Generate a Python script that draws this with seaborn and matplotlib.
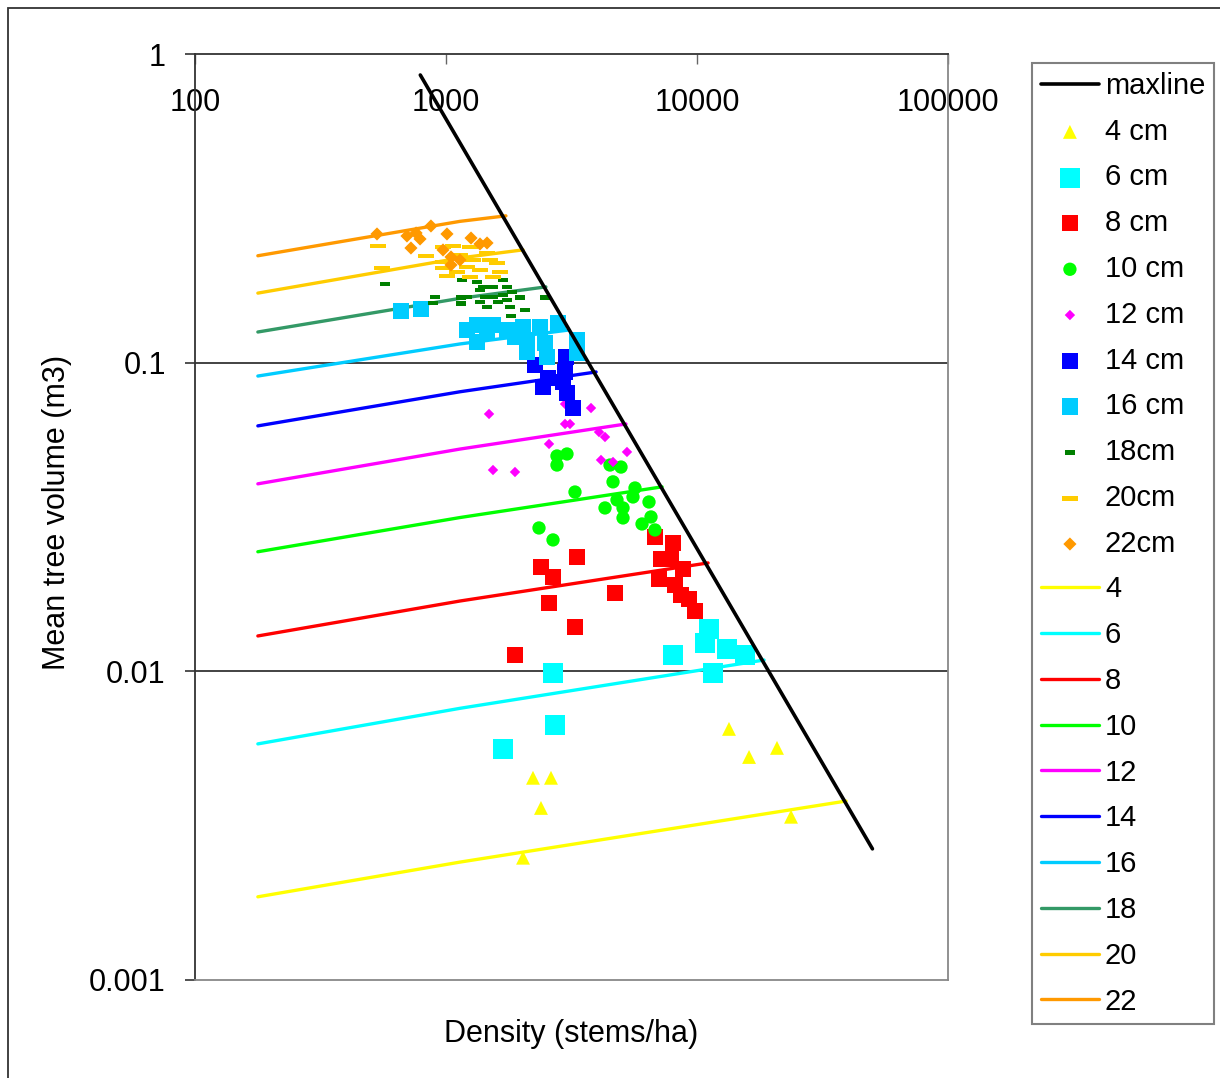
import matplotlib
matplotlib.use('Agg')
import matplotlib.pyplot as plt
import seaborn as sns
from matplotlib.patches import Rectangle

sns.set_style('white')
plt.rcParams['font.family'] = ['Liberation Sans', 'DejaVu Sans']
plt.rcParams['text.color'] = 'black'
plt.rcParams['axes.labelcolor'] = 'black'
plt.rcParams['xtick.color'] = 'black'
plt.rcParams['ytick.color'] = 'black'

# maximum size-density line
max_x = [790, 50000]
max_y = [0.855, 0.00266]

# observed stands per diameter class (stems/ha, m3)
d4_x = [2221, 2620, 2390, 13410, 16120, 20830, 23690, 2027]
d4_y = [0.00452, 0.00452, 0.00361, 0.00651, 0.00528, 0.00565, 0.00338, 0.00249]

d6_x = [2669, 2719, 1687, 8023, 11160, 10760, 13170, 15530, 11580]
d6_y = [0.00988, 0.0067, 0.0056, 0.0113, 0.01372, 0.01236, 0.01182, 0.0113, 0.00988]

d8_x = [1883, 3265, 2573, 2669, 2390, 3325, 4714, 6801, 8023, 7188, 7879, 8796,
        7057, 8172, 8636, 9293, 9817]
d8_y = [0.0113, 0.01392, 0.01666, 0.0202, 0.0218, 0.02348, 0.01795, 0.02725, 0.02606,
        0.02312, 0.02312, 0.02146, 0.01992, 0.01905, 0.01769, 0.01716, 0.01569]

d10_x = [2768, 3034, 2768, 3265, 4628, 4502, 4980, 5662, 4800, 5559, 6438, 4300,
         5073, 5073, 6557, 6039, 6801, 2347, 2669]
d10_y = [0.04985, 0.0506, 0.0466, 0.0381, 0.0411, 0.0466, 0.0459, 0.03926, 0.03591,
         0.03672, 0.03537, 0.03383, 0.03383, 0.0314, 0.03163, 0.03002, 0.02871,
         0.02914, 0.02665]

d12_x = [1484, 1539, 1883, 2573, 2980, 3119, 3782, 4070, 4300, 5261, 4145, 4628, 2980]
d12_y = [0.0682, 0.0449, 0.04424, 0.05453, 0.0633, 0.0633, 0.0713, 0.0596, 0.05744,
         0.05137, 0.04839, 0.04767, 0.07348]

d14_x = [2263, 2435, 2550, 3007, 2980, 2925, 3034, 3206]
d14_y = [0.0983, 0.0834, 0.0892, 0.1043, 0.0933, 0.0866, 0.0797, 0.0713]

d16_x = [662, 795, 1329, 1329, 1457, 1539, 1750, 2027, 2102, 2102, 2369, 2527, 2480,
         2794, 3325, 3325, 1212, 1883]
d16_y = [0.1471, 0.1493, 0.1325, 0.1167, 0.1248, 0.1325, 0.1276, 0.1305, 0.1185,
         0.1083, 0.1305, 0.1043, 0.1158, 0.1345, 0.1185, 0.1075, 0.1276, 0.1211]

d18_x = [572, 904, 888, 1148, 1148, 1212, 1158, 1329, 1366, 1404, 1430, 1366, 1457,
         1539, 1687, 1750, 1687, 1750, 1832, 1972, 1799, 2064, 1815, 2480, 1612, 1539]
d18_y = [0.1799, 0.1632, 0.1561, 0.1621, 0.155, 0.1632, 0.1853, 0.1826, 0.172, 0.1759,
         0.1632, 0.1573, 0.1515, 0.1759, 0.1853, 0.1759, 0.1657, 0.1596, 0.1694,
         0.1621, 0.1515, 0.1482, 0.1417, 0.1621, 0.1573, 0.1632]

d20_x = [536, 556, 832, 973, 1066, 1246, 973, 973, 1009, 1106, 1212, 1281, 1366, 1497,
         1597, 1641, 1539, 1457, 1137, 1246]
d20_y = [0.2388, 0.2026, 0.2216, 0.237, 0.2388, 0.237, 0.2119, 0.2026, 0.1909, 0.1967,
         0.2042, 0.2151, 0.1997, 0.2151, 0.2103, 0.1967, 0.1895, 0.2267, 0.2233, 0.1895]

d22_x = [531, 699, 760, 788, 871, 1009, 1258, 1366, 1457, 725, 973, 1047, 1137, 1047]
d22_y = [0.2612, 0.2573, 0.2631, 0.2516, 0.2772, 0.2612, 0.2534, 0.2424, 0.2442,
         0.2352, 0.2318, 0.22, 0.2151, 0.2073]

# predicted mean volume curves per diameter class
curve_labels = ['4', '6', '8', '10', '12', '14', '16', '18', '20', '22']
curve_x = [
    [178, 1138, 39260],
    [178, 1138, 18500],
    [178, 1138, 11070],
    [178, 1138, 7260],
    [178, 1138, 5212],
    [178, 1138, 3963],
    [178, 1138, 3090],
    [178, 1138, 2500],
    [178, 1138, 2028],
    [178, 1138, 1733],
]
curve_y = [
    [0.00186, 0.00241, 0.0038],
    [0.00582, 0.00759, 0.01088],
    [0.01302, 0.0169, 0.02245],
    [0.0244, 0.0315, 0.0396],
    [0.0405, 0.0525, 0.0633],
    [0.0624, 0.0805, 0.0933],
    [0.0905, 0.115, 0.1276],
    [0.1257, 0.1616, 0.176],
    [0.168, 0.2184, 0.232],
    [0.222, 0.287, 0.299],
]
curve_colors = ['#FFFF00', '#00FFFF', '#FF0000', '#00FF00', '#FF00FF', '#0000FF',
                '#00CCFF', '#339966', '#FFCC00', '#FF9900']

dash_short = [(-1, -0.45), (1, -0.45), (1, 0.45), (-1, 0.45)]
dash_long = [(-1, -0.3), (1, -0.3), (1, 0.3), (-1, 0.3)]

point_series = [
    ('4 cm', d4_x, d4_y, '#FFFF00', '^', 100),
    ('6 cm', d6_x, d6_y, '#00FFFF', 's', 207),
    ('8 cm', d8_x, d8_y, '#FF0000', 's', 133),
    ('10 cm', d10_x, d10_y, '#00FF00', 'o', 92),
    ('12 cm', d12_x, d12_y, '#FF00FF', 'D', 28),
    ('14 cm', d14_x, d14_y, '#0000FF', 's', 133),
    ('16 cm', d16_x, d16_y, '#00CCFF', 's', 140),
    ('18cm', d18_x, d18_y, '#008000', dash_short, 60),
    ('20cm', d20_x, d20_y, '#FFCC00', dash_long, 125),
    ('22cm', d22_x, d22_y, '#FF9900', 'D', 45),
]

W, H = 1220, 1078
fig = plt.figure(figsize=(W / 100, H / 100), dpi=100)
ax = fig.add_axes([195 / W, 1 - 980 / H, (948 - 195) / W, (980 - 54) / H])
ax.set_xscale('log')
ax.set_yscale('log')

for lab, xs, ys, col in zip(curve_labels, curve_x, curve_y, curve_colors):
    sns.lineplot(x=xs, y=ys, color=col, lw=2.4, sort=False, estimator=None,
                 label=lab, ax=ax, zorder=2)

for lab, xs, ys, col, mk, size in point_series:
    sns.scatterplot(x=xs, y=ys, color=col, marker=mk, s=size, edgecolor='none',
                    linewidth=0, label=lab, ax=ax, zorder=3)

sns.lineplot(x=max_x, y=max_y, color='black', lw=2.6, sort=False, estimator=None,
             label='maxline', ax=ax, zorder=4)

ax.set_xlim(100, 100000)
ax.set_ylim(0.001, 1)

ax.set_xticks([100, 1000, 10000, 100000], ['100', '1000', '10000', '100000'])
ax.set_yticks([0.001, 0.01, 0.1, 1], ['0.001', '0.01', '0.1', '1'])
ax.minorticks_off()
ax.tick_params(axis='x', top=True, bottom=False, labeltop=True, labelbottom=False,
               direction='in', length=7, width=1, color='#666666', pad=-46,
               labelsize=22)
ax.tick_params(axis='y', left=True, direction='out', length=7, width=1.2,
               color='#333333', pad=14, labelsize=22)

ax.grid(False)
for yv in [0.01, 0.1]:
    ax.axhline(yv, color='#222222', lw=1.2, zorder=1)

ax.spines['left'].set_color('#333333')
ax.spines['top'].set_color('#333333')
ax.spines['right'].set_color('#888888')
ax.spines['bottom'].set_color('#888888')
for sp in ax.spines.values():
    sp.set_linewidth(1.3)
    sp.set_visible(True)

ax.set_xlabel('Density (stems/ha)', fontsize=22)
ax.set_ylabel('Mean tree volume (m3)', fontsize=22)
ax.xaxis.set_label_coords(0.5, -0.042)
ax.yaxis.set_label_coords(-0.163, 0.505)

handles, labels = ax.get_legend_handles_labels()
lookup = dict(zip(labels, handles))
order = ['maxline'] + [p[0] for p in point_series] + curve_labels
leg = ax.legend([lookup[k] for k in order], order, loc='upper left',
                bbox_to_anchor=(1032 / W, 1 - 63 / H), bbox_transform=fig.transFigure,
                frameon=True, fancybox=False, edgecolor='#808080', framealpha=1,
                borderaxespad=0, borderpad=0.3, handlelength=2.0, handletextpad=0.2,
                labelspacing=0.61, fontsize=21, scatterpoints=1)
leg.get_frame().set_linewidth(1.5)

fig.add_artist(Rectangle((8 / W, -0.01), 1.1, 1 - 8 / H + 0.01, transform=fig.transFigure,
                         fill=False, edgecolor='#333333', lw=1.3))

fig.savefig('out.png', dpi=100)
